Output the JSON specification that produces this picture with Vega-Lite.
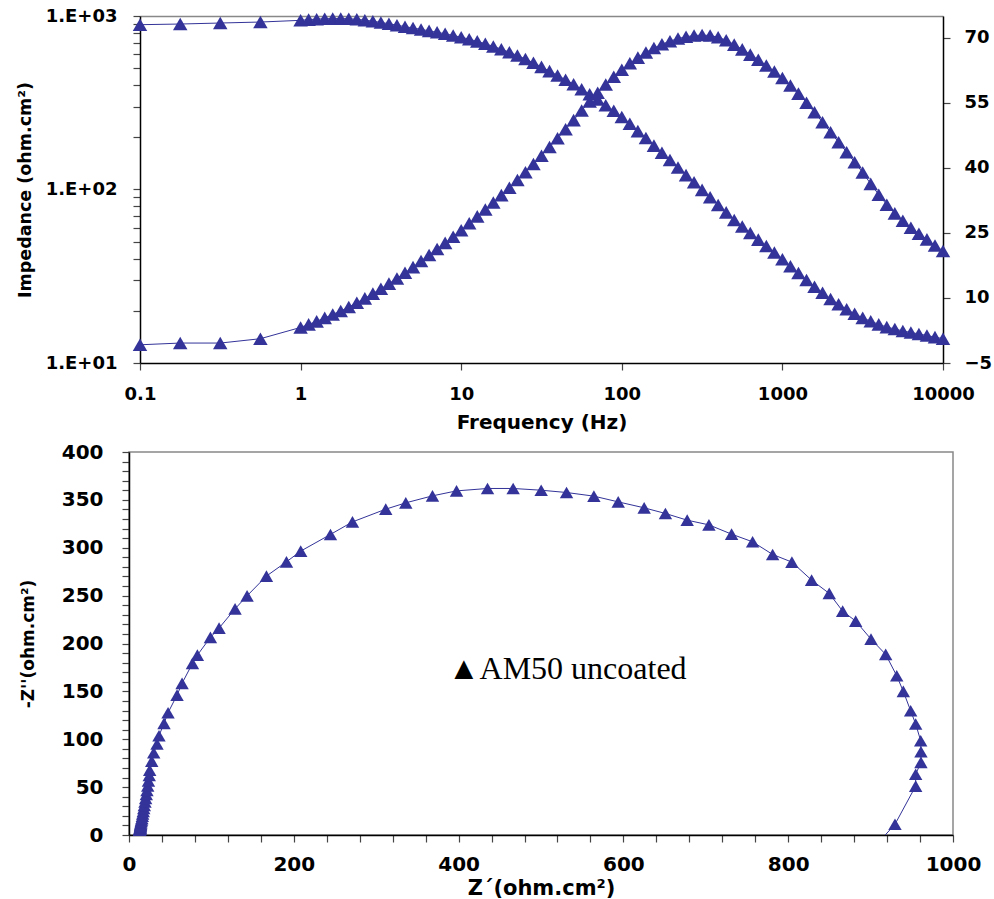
{
  "$schema": "https://vega.github.io/schema/vega-lite/v6.json",
  "background": "white",
  "padding": {"left": 16, "top": 7, "right": 0, "bottom": 0},
  "datasets": {
    "bode": [
      {"f": 0.1, "z": 891, "ph": -0.8},
      {"f": 0.178, "z": 899, "ph": -0.4},
      {"f": 0.316, "z": 911, "ph": -0.4},
      {"f": 0.562, "z": 923, "ph": 0.6},
      {"f": 1, "z": 944, "ph": 3.2},
      {"f": 1.122, "z": 953, "ph": 3.9},
      {"f": 1.259, "z": 959, "ph": 4.6},
      {"f": 1.413, "z": 964, "ph": 5.4},
      {"f": 1.585, "z": 966, "ph": 6.2},
      {"f": 1.778, "z": 966, "ph": 7.0},
      {"f": 1.995, "z": 964, "ph": 7.9},
      {"f": 2.239, "z": 957, "ph": 8.9},
      {"f": 2.512, "z": 946, "ph": 9.9},
      {"f": 2.818, "z": 933, "ph": 11.0},
      {"f": 3.162, "z": 918, "ph": 12.1},
      {"f": 3.548, "z": 902, "ph": 13.3},
      {"f": 3.981, "z": 885, "ph": 14.5},
      {"f": 4.467, "z": 868, "ph": 15.8},
      {"f": 5.012, "z": 853, "ph": 17.1},
      {"f": 5.623, "z": 837, "ph": 18.5},
      {"f": 6.31, "z": 821, "ph": 19.9},
      {"f": 7.079, "z": 805, "ph": 21.3},
      {"f": 7.943, "z": 790, "ph": 22.7},
      {"f": 8.913, "z": 772, "ph": 24.1},
      {"f": 10, "z": 755, "ph": 25.6},
      {"f": 11.22, "z": 735, "ph": 27.2},
      {"f": 12.59, "z": 714, "ph": 28.8},
      {"f": 14.13, "z": 692, "ph": 30.4},
      {"f": 15.85, "z": 668, "ph": 32.0},
      {"f": 17.78, "z": 644, "ph": 33.7},
      {"f": 19.95, "z": 618, "ph": 35.4},
      {"f": 22.39, "z": 592, "ph": 37.2},
      {"f": 25.12, "z": 565, "ph": 39.0},
      {"f": 28.18, "z": 537, "ph": 40.9},
      {"f": 31.62, "z": 509, "ph": 42.8},
      {"f": 35.48, "z": 481, "ph": 44.8},
      {"f": 39.81, "z": 454, "ph": 46.8},
      {"f": 44.67, "z": 429, "ph": 48.9},
      {"f": 50.12, "z": 404, "ph": 51.0},
      {"f": 56.23, "z": 378, "ph": 53.2},
      {"f": 63.1, "z": 354, "ph": 55.3},
      {"f": 70.79, "z": 330, "ph": 57.3},
      {"f": 79.43, "z": 306, "ph": 59.2},
      {"f": 89.13, "z": 284, "ph": 61.0},
      {"f": 100, "z": 262, "ph": 62.6},
      {"f": 112.2, "z": 239, "ph": 64.1},
      {"f": 125.9, "z": 217, "ph": 65.4},
      {"f": 141.3, "z": 198, "ph": 66.6},
      {"f": 158.5, "z": 179, "ph": 67.6},
      {"f": 177.8, "z": 163, "ph": 68.5},
      {"f": 199.5, "z": 148, "ph": 69.2},
      {"f": 223.9, "z": 134, "ph": 69.8},
      {"f": 251.2, "z": 121, "ph": 70.2},
      {"f": 281.8, "z": 110, "ph": 70.5},
      {"f": 316.2, "z": 99.5, "ph": 70.6},
      {"f": 354.8, "z": 90.2, "ph": 70.5},
      {"f": 398.1, "z": 81.5, "ph": 70.1},
      {"f": 446.7, "z": 73.8, "ph": 69.4},
      {"f": 501.2, "z": 66.8, "ph": 68.4},
      {"f": 562.3, "z": 61.2, "ph": 67.3},
      {"f": 631, "z": 56.1, "ph": 66.1},
      {"f": 707.9, "z": 51.4, "ph": 64.9},
      {"f": 794.3, "z": 47.2, "ph": 63.6},
      {"f": 891.3, "z": 43.3, "ph": 62.2},
      {"f": 1000, "z": 39.6, "ph": 60.7},
      {"f": 1122, "z": 36.1, "ph": 59.0},
      {"f": 1259, "z": 33.0, "ph": 57.1},
      {"f": 1413, "z": 30.1, "ph": 55.0},
      {"f": 1585, "z": 27.5, "ph": 52.8},
      {"f": 1778, "z": 25.4, "ph": 50.5},
      {"f": 1995, "z": 23.4, "ph": 48.2},
      {"f": 2239, "z": 21.8, "ph": 45.9},
      {"f": 2512, "z": 20.4, "ph": 43.6},
      {"f": 2818, "z": 19.2, "ph": 41.3},
      {"f": 3162, "z": 18.2, "ph": 38.9},
      {"f": 3548, "z": 17.4, "ph": 36.3},
      {"f": 3981, "z": 16.7, "ph": 33.8},
      {"f": 4467, "z": 16.1, "ph": 31.5},
      {"f": 5012, "z": 15.7, "ph": 29.5},
      {"f": 5623, "z": 15.3, "ph": 27.8},
      {"f": 6310, "z": 15.0, "ph": 26.2},
      {"f": 7079, "z": 14.7, "ph": 24.8},
      {"f": 7943, "z": 14.4, "ph": 23.5},
      {"f": 8913, "z": 14.1, "ph": 22.1},
      {"f": 10000, "z": 13.8, "ph": 20.8}
    ],
    "nyq": [
      {"zr": 12.9, "zi": 4.9}, {"zr": 13.1, "zi": 5.3}, {"zr": 13.2, "zi": 5.7}, {"zr": 13.3, "zi": 6.2},
      {"zr": 13.5, "zi": 6.6}, {"zr": 13.5, "zi": 7.1}, {"zr": 13.7, "zi": 7.7}, {"zr": 13.7, "zi": 8.4},
      {"zr": 13.9, "zi": 9.3}, {"zr": 14.0, "zi": 10.3}, {"zr": 14.2, "zi": 11.4}, {"zr": 14.4, "zi": 12.7},
      {"zr": 14.8, "zi": 14.1}, {"zr": 15.2, "zi": 15.7}, {"zr": 15.6, "zi": 17.4}, {"zr": 16.2, "zi": 19.6},
      {"zr": 16.6, "zi": 21.9}, {"zr": 17.3, "zi": 24.7}, {"zr": 17.9, "zi": 27.7}, {"zr": 18.6, "zi": 30.9},
      {"zr": 19.4, "zi": 34.5}, {"zr": 20.2, "zi": 38.3}, {"zr": 21.0, "zi": 42.3}, {"zr": 21.8, "zi": 46.5},
      {"zr": 22.7, "zi": 51.3}, {"zr": 23.6, "zi": 56.5}, {"zr": 24.6, "zi": 62.1},
      {"zr": 25.1, "zi": 67.8}, {"zr": 27.6, "zi": 77.2}, {"zr": 30.0, "zi": 85.9}, {"zr": 34.0, "zi": 95.0},
      {"zr": 36.4, "zi": 103.7}, {"zr": 42.5, "zi": 116.6}, {"zr": 47.4, "zi": 127.7}, {"zr": 58.3, "zi": 146.1},
      {"zr": 64.4, "zi": 158.4}, {"zr": 77.0, "zi": 179.2}, {"zr": 83.0, "zi": 187.9}, {"zr": 98.8, "zi": 206.4},
      {"zr": 109.3, "zi": 216.1}, {"zr": 128.7, "zi": 236.2}, {"zr": 143.3, "zi": 249.8}, {"zr": 166.8, "zi": 270.4},
      {"zr": 191.1, "zi": 285.3}, {"zr": 208.4, "zi": 296.5}, {"zr": 244.5, "zi": 313.9}, {"zr": 271.2, "zi": 327.0},
      {"zr": 311.6, "zi": 340.3}, {"zr": 335.9, "zi": 346.9}, {"zr": 368.3, "zi": 354.2}, {"zr": 397.5, "zi": 359.4},
      {"zr": 435.1, "zi": 361.9}, {"zr": 466.2, "zi": 361.9}, {"zr": 500.2, "zi": 360.1}, {"zr": 531.0, "zi": 357.7},
      {"zr": 564.2, "zi": 353.9}, {"zr": 593.7, "zi": 347.9}, {"zr": 625.2, "zi": 341.7}, {"zr": 651.0, "zi": 335.8},
      {"zr": 677.4, "zi": 328.8}, {"zr": 703.8, "zi": 323.9}, {"zr": 731.3, "zi": 314.2}, {"zr": 756.8, "zi": 306.2},
      {"zr": 781.1, "zi": 293.0}, {"zr": 804.5, "zi": 285.0}, {"zr": 828.4, "zi": 266.2}, {"zr": 849.8, "zi": 252.3},
      {"zr": 866.1, "zi": 233.8}, {"zr": 881.9, "zi": 223.4}, {"zr": 900.5, "zi": 204.6}, {"zr": 918.3, "zi": 188.6},
      {"zr": 931.7, "zi": 166.3}, {"zr": 939.7, "zi": 150.0}, {"zr": 948.6, "zi": 129.7}, {"zr": 954.7, "zi": 115.9},
      {"zr": 960.8, "zi": 98.4}, {"zr": 961.1, "zi": 87.0}, {"zr": 961.1, "zi": 75.9}, {"zr": 954.7, "zi": 63.4},
      {"zr": 954.7, "zi": 51.1}, {"zr": 929.6, "zi": 11.2}, {"zr": 911, "zi": -6.4}, {"zr": 899, "zi": -6.3},
      {"zr": 891, "zi": -12.4}
    ],
    "note": [
      {"label": "▲AM50 uncoated"}
    ]
  },
  "concat": [
    {
      "width": 814,
      "height": 347,
      "view": {"stroke": null},
      "data": {"name": "bode"},
      "layer": [
        {
          "encoding": {
            "x": {
              "field": "f", "type": "quantitative",
              "scale": {"type": "log", "domain": [0.1, 10000], "range": [11, 814]},
              "axis": {"values": [0.1, 1, 10, 100, 1000, 10000], "format": "~g", "title": "Frequency (Hz)", "labelPadding": 15, "titlePadding": 9}
            },
            "y": {
              "field": "z", "type": "quantitative",
              "scale": {"type": "log", "domain": [10, 1000]},
              "axis": {
                "title": "Impedance (ohm.cm²)",
                "titleFontSize": 17.5,
                "titlePadding": 11,
                "labelPadding": 16,
                "offset": -11,
                "values": [10, 20, 30, 40, 50, 60, 70, 80, 90, 100, 200, 300, 400, 500, 600, 700, 800, 900, 1000],
                "labelExpr": "datum.value == 10 ? '1.E+01' : datum.value == 100 ? '1.E+02' : datum.value == 1000 ? '1.E+03' : ''"
              }
            }
          },
          "layer": [
            {"mark": {"type": "line", "color": "#333399", "strokeWidth": 1}},
            {"mark": {"type": "point", "shape": "triangle-up", "filled": true, "color": "#333399", "size": 210, "opacity": 1}}
          ]
        },
        {
          "encoding": {
            "x": {
              "field": "f", "type": "quantitative",
              "axis": {"orient": "top", "title": null, "labels": false, "ticks": false, "values": [], "domainColor": "#888", "domainWidth": 1.5}
            },
            "y": {
              "field": "ph", "type": "quantitative",
              "scale": {"domain": [-5, 75], "nice": false, "zero": false},
              "axis": {"orient": "right", "title": null, "values": [-5, 10, 25, 40, 55, 70], "labelPadding": 14}
            }
          },
          "layer": [
            {"mark": {"type": "line", "color": "#333399", "strokeWidth": 1}},
            {"mark": {"type": "point", "shape": "triangle-up", "filled": true, "color": "#333399", "size": 210, "opacity": 1}}
          ]
        }
      ],
      "resolve": {"scale": {"y": "independent"}, "axis": {"x": "independent"}}
    },
    {
      "width": 824,
      "height": 383,
      "layer": [
        {
          "data": {"name": "nyq"},
          "mark": {"type": "line", "color": "#333399", "strokeWidth": 1, "clip": true},
          "encoding": {
            "x": {
              "field": "zr", "type": "quantitative",
              "scale": {"domain": [0, 1000], "nice": false},
              "axis": {
                "title": "Z´(ohm.cm²)", "titleFontSize": 21, "labelFontSize": 20, "labelPadding": 12, "titlePadding": 3, "format": "d",
                "values": [0, 40, 80, 120, 160, 200, 240, 280, 320, 360, 400, 440, 480, 520, 560, 600, 640, 680, 720, 760, 800, 840, 880, 920, 960, 1000],
                "labelExpr": "datum.value % 200 == 0 ? datum.label : ''"
              }
            },
            "y": {
              "field": "zi", "type": "quantitative",
              "scale": {"domain": [0, 400], "nice": false},
              "axis": {
                "title": "-Z''(ohm.cm²)", "titleFontSize": 17, "labelFontSize": 20, "labelPadding": 19, "titlePadding": 24, "format": "d",
                "values": [0, 10, 20, 30, 40, 50, 60, 70, 80, 90, 100, 110, 120, 130, 140, 150, 160, 170, 180, 190, 200, 210, 220, 230, 240, 250, 260, 270, 280, 290, 300, 310, 320, 330, 340, 350, 360, 370, 380, 390, 400],
                "labelExpr": "datum.value % 50 == 0 ? datum.label : ''"
              }
            },
            "order": {"value": null}
          }
        },
        {
          "data": {"name": "nyq"},
          "transform": [{"filter": "datum.zi >= 0"}],
          "mark": {"type": "point", "shape": "triangle-up", "filled": true, "color": "#333399", "size": 180, "opacity": 1},
          "encoding": {
            "x": {
              "field": "zr", "type": "quantitative",
              "scale": {"domain": [0, 1000], "nice": false},
              "axis": {
                "title": "Z´(ohm.cm²)", "titleFontSize": 21, "labelFontSize": 20, "labelPadding": 12, "titlePadding": 3, "format": "d",
                "values": [0, 40, 80, 120, 160, 200, 240, 280, 320, 360, 400, 440, 480, 520, 560, 600, 640, 680, 720, 760, 800, 840, 880, 920, 960, 1000],
                "labelExpr": "datum.value % 200 == 0 ? datum.label : ''"
              }
            },
            "y": {
              "field": "zi", "type": "quantitative",
              "scale": {"domain": [0, 400], "nice": false},
              "axis": {
                "title": "-Z''(ohm.cm²)", "titleFontSize": 17, "labelFontSize": 20, "labelPadding": 19, "titlePadding": 24, "format": "d",
                "values": [0, 10, 20, 30, 40, 50, 60, 70, 80, 90, 100, 110, 120, 130, 140, 150, 160, 170, 180, 190, 200, 210, 220, 230, 240, 250, 260, 270, 280, 290, 300, 310, 320, 330, 340, 350, 360, 370, 380, 390, 400],
                "labelExpr": "datum.value % 50 == 0 ? datum.label : ''"
              }
            }
          }
        },
        {
          "data": {"name": "note"},
          "mark": {"type": "text", "font": "Liberation Serif", "fontSize": 32, "align": "left", "baseline": "alphabetic", "color": "#000"},
          "encoding": {
            "x": {
              "datum": 387, "type": "quantitative",
              "scale": {"domain": [0, 1000], "nice": false},
              "axis": {
                "title": "Z´(ohm.cm²)", "titleFontSize": 21, "labelFontSize": 20, "labelPadding": 12, "titlePadding": 3, "format": "d",
                "values": [0, 40, 80, 120, 160, 200, 240, 280, 320, 360, 400, 440, 480, 520, 560, 600, 640, 680, 720, 760, 800, 840, 880, 920, 960, 1000],
                "labelExpr": "datum.value % 200 == 0 ? datum.label : ''"
              }
            },
            "y": {
              "datum": 163, "type": "quantitative",
              "scale": {"domain": [0, 400], "nice": false},
              "axis": {
                "title": "-Z''(ohm.cm²)", "titleFontSize": 17, "labelFontSize": 20, "labelPadding": 19, "titlePadding": 24, "format": "d",
                "values": [0, 10, 20, 30, 40, 50, 60, 70, 80, 90, 100, 110, 120, 130, 140, 150, 160, 170, 180, 190, 200, 210, 220, 230, 240, 250, 260, 270, 280, 290, 300, 310, 320, 330, 340, 350, 360, 370, 380, 390, 400],
                "labelExpr": "datum.value % 50 == 0 ? datum.label : ''"
              }
            },
            "text": {"field": "label", "type": "nominal"}
          }
        }
      ]
    }
  ],
  "columns": 1,
  "spacing": 9,
  "config": {
    "view": {"stroke": "#888", "strokeWidth": 1.5},
    "axis": {
      "labelFont": "DejaVu Sans", "labelFontWeight": "bold", "labelFontSize": 18, "labelColor": "#000",
      "titleFont": "DejaVu Sans", "titleFontWeight": "bold", "titleFontSize": 20, "titleColor": "#000",
      "domainColor": "#000", "domainWidth": 1.5, "tickColor": "#444", "tickWidth": 1.2, "tickSize": 7,
      "grid": false, "labelFlush": false, "labelOverlap": false, "labelBound": false
    }
  }
}
